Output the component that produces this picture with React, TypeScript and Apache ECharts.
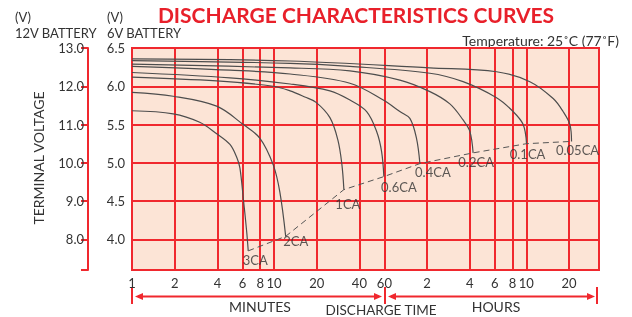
import React, { useEffect, useRef } from 'react';
import * as echarts from 'echarts';

// Discharge time axis (minutes); ticks and their printed labels
const timeTicks = [1, 2, 4, 6, 8, 10, 20, 40, 60, 120, 240, 360, 480, 600, 1200];
const timeTickLabels = ['1', '2', '4', '6', '8', '10', '20', '40', '60', '2', '4', '6', '8', '10', '20'];
// 6V battery voltage ticks and 12V battery voltage ticks
const volt6Ticks = [4.0, 4.5, 5.0, 5.5, 6.0, 6.5];
const volt12Ticks = [8.0, 9.0, 10.0, 11.0, 12.0, 13.0];

// Curves: [minutes, volts (6V battery)]
const curveNames = ['3CA', '2CA', '1CA', '0.6CA', '0.4CA', '0.2CA', '0.1CA', '0.05CA'];
const curve3CA = [[1, 5.68], [1.95, 5.64], [3.0, 5.53], [3.95, 5.38], [4.9, 5.24], [5.5, 5.06], [5.76, 4.93], [6.08, 4.54], [6.42, 4.11], [6.59, 3.85]];
const curve2CA = [[1, 5.92], [1.95, 5.87], [3.95, 5.74], [6.08, 5.5], [7.97, 5.32], [9.9, 4.97], [11.0, 4.62], [12.1, 4.04]];
const curve1CA = [[1, 6.12], [3.95, 6.07], [9.9, 6.0], [13.0, 5.94], [16.5, 5.86], [19.8, 5.79], [24.8, 5.59], [28.2, 5.3], [30.1, 4.98], [31.1, 4.65]];
const curve06CA = [[1, 6.18], [4.9, 6.11], [13.0, 6.03], [24.8, 5.94], [34.3, 5.82], [45.0, 5.67], [52.9, 5.41], [57.3, 5.15], [59.5, 4.82]];
const curve04CA = [[1, 6.26], [4.9, 6.21], [13.0, 6.16], [34.3, 6.04], [58.9, 5.82], [77.1, 5.67], [90.7, 5.58], [101, 5.32], [106.7, 4.99]];
const curve02CA = [[1, 6.29], [13.0, 6.24], [34.3, 6.2], [77.1, 6.08], [125.5, 5.93], [173.5, 5.77], [215, 5.56], [240, 5.41], [253, 5.13]];
const curve01CA = [[1, 6.335], [13.0, 6.3], [34.3, 6.26], [125.5, 6.17], [215, 6.06], [370, 5.85], [484, 5.67], [570, 5.5], [602, 5.25]];
const curve005CA = [[1, 6.357], [13.0, 6.33], [125.5, 6.24], [370, 6.19], [635, 6.06], [927, 5.84], [1089, 5.67], [1216, 5.5], [1249, 5.28]];
const curves = [curve3CA, curve2CA, curve1CA, curve06CA, curve04CA, curve02CA, curve01CA, curve005CA];

// label offsets (px) relative to each curve's end point
const labelOffsets = [[7, 9], [10, 5], [4, 14], [15, 10], [13, 8], [3, 9], [1, 10], [6, 9]];

const RED = '#F0282E';
const TEXT = '#333333';
const FONT = 'Lato, "Open Sans", sans-serif';

export default function App() {
  const ref = useRef<HTMLDivElement>(null);
  useEffect(() => {
    if (!ref.current) return;
    const chart = echarts.init(ref.current, undefined, { renderer: 'svg' });
    const endPoints = curves.map((c) => c[c.length - 1]);
    const fmtTime = (v: number) => {
      const i = timeTicks.findIndex((t) => Math.abs(t - v) < t * 1e-3);
      return i >= 0 ? timeTickLabels[i] : '';
    };
    const series: any[] = curves.map((c, i) => ({
      type: 'line',
      name: curveNames[i],
      data: c,
      smooth: 0.35,
      showSymbol: false,
      symbol: 'none',
      lineStyle: { color: '#4d4d4d', width: 1.2 },
      z: 3,
    }));
    series.push({
      type: 'line',
      name: 'cutoff',
      data: endPoints,
      showSymbol: false,
      symbol: 'none',
      lineStyle: { color: '#555555', width: 1, type: [6, 4] },
      z: 3,
    });
    series.push({
      type: 'scatter',
      name: 'labels',
      symbolSize: 0,
      data: endPoints.map((p, i) => ({
        value: p,
        label: {
          show: true,
          formatter: curveNames[i],
          position: 'inside',
          offset: labelOffsets[i],
        },
      })),
      label: { color: TEXT, fontSize: 13, fontFamily: FONT },
      z: 4,
    });

    chart.setOption({
      animation: false,
      textStyle: { fontFamily: FONT },
      grid: {
        left: 132,
        top: 48,
        right: 33,
        bottom: 47,
        show: true,
        backgroundColor: '#FCE4D6',
        borderColor: RED,
        borderWidth: 2,
      },
      xAxis: {
        type: 'log',
        min: 1,
        max: 1950,
        axisLine: { show: false },
        axisTick: { show: false, customValues: timeTicks },
        axisLabel: {
          customValues: timeTicks,
          formatter: fmtTime,
          color: TEXT,
          fontSize: 13,
          fontFamily: FONT,
          margin: 6,
        },
        splitLine: { show: true, lineStyle: { color: RED, width: 2 } },
      },
      yAxis: [
        {
          type: 'value',
          min: 3.6,
          max: 6.5,
          position: 'left',
          axisLine: { show: false },
          axisTick: { show: false, customValues: volt6Ticks },
          axisLabel: {
            customValues: volt6Ticks,
            formatter: (v: number) => v.toFixed(1),
            color: TEXT,
            fontSize: 13,
            fontFamily: FONT,
            margin: 7,
          },
          splitLine: { show: true, lineStyle: { color: RED, width: 2 } },
        },
        {
          type: 'value',
          min: 7.2,
          max: 13.0,
          position: 'left',
          offset: 44,
          axisLine: { show: true, lineStyle: { color: RED, width: 2 } },
          axisTick: { show: true, length: 7, customValues: [7.2, ...volt12Ticks], lineStyle: { color: RED, width: 2 } },
          axisLabel: {
            customValues: volt12Ticks,
            formatter: (v: number) => v.toFixed(1),
            color: TEXT,
            fontSize: 13,
            fontFamily: FONT,
            margin: 4,
          },
          splitLine: { show: false },
        },
      ],
      series,
      graphic: [
        { type: 'text', style: { text: 'DISCHARGE CHARACTERISTICS CURVES', x: 356, y: 14, align: 'center', verticalAlign: 'middle', fill: '#E8202A', font: `bold 21px ${FONT}` } },
        { type: 'text', style: { text: '(V)', x: 15, y: 17, verticalAlign: 'middle', fill: TEXT, font: `13px ${FONT}` } },
        { type: 'text', style: { text: '12V BATTERY', x: 15, y: 32.5, verticalAlign: 'middle', fill: TEXT, font: `13px ${FONT}` } },
        { type: 'text', style: { text: '(V)', x: 107, y: 17, verticalAlign: 'middle', fill: TEXT, font: `13px ${FONT}` } },
        { type: 'text', style: { text: '6V BATTERY', x: 107, y: 32.5, verticalAlign: 'middle', fill: TEXT, font: `13px ${FONT}` } },
        { type: 'text', style: { text: 'Temperature: 25˚C (77˚F)', x: 619, y: 40, align: 'right', verticalAlign: 'middle', fill: TEXT, font: `14px ${FONT}` } },
        { type: 'text', x: 38, y: 158, rotation: Math.PI / 2, style: { text: 'TERMINAL VOLTAGE', x: 0, y: 0, align: 'center', verticalAlign: 'middle', fill: TEXT, font: `14px ${FONT}` } },
        { type: 'text', style: { text: 'MINUTES', x: 260, y: 306, align: 'center', verticalAlign: 'middle', fill: TEXT, font: `14px ${FONT}` } },
        { type: 'text', style: { text: 'DISCHARGE TIME', x: 381, y: 310, align: 'center', verticalAlign: 'middle', fill: TEXT, font: `13.5px ${FONT}` } },
        { type: 'text', style: { text: 'HOURS', x: 496, y: 306, align: 'center', verticalAlign: 'middle', fill: TEXT, font: `14px ${FONT}` } },
        // arrows
        { type: 'line', shape: { x1: 132, y1: 287, x2: 132, y2: 304 }, style: { stroke: RED, lineWidth: 2 } },
        { type: 'line', shape: { x1: 385, y1: 287, x2: 385, y2: 304 }, style: { stroke: RED, lineWidth: 2 } },
        { type: 'line', shape: { x1: 597, y1: 287, x2: 597, y2: 304 }, style: { stroke: RED, lineWidth: 2 } },
        { type: 'line', shape: { x1: 138, y1: 296.5, x2: 379, y2: 296.5 }, style: { stroke: RED, lineWidth: 2 } },
        { type: 'line', shape: { x1: 391, y1: 296.5, x2: 592, y2: 296.5 }, style: { stroke: RED, lineWidth: 2 } },
        { type: 'polygon', shape: { points: [[135, 296.5], [143, 293], [143, 300]] }, style: { fill: RED } },
        { type: 'polygon', shape: { points: [[382, 296.5], [374, 293], [374, 300]] }, style: { fill: RED } },
        { type: 'polygon', shape: { points: [[388, 296.5], [396, 293], [396, 300]] }, style: { fill: RED } },
        { type: 'polygon', shape: { points: [[595, 296.5], [587, 293], [587, 300]] }, style: { fill: RED } },
      ],
    });
    return () => chart.dispose();
  }, []);
  return <div ref={ref} style={{ position: 'fixed', left: 0, top: 0, width: 632, height: 317 }} />;
}
